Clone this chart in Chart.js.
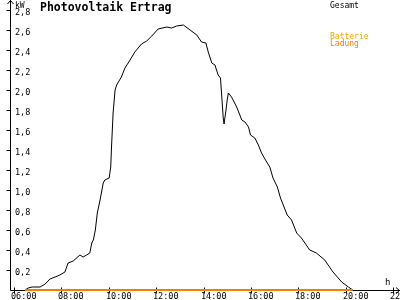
<!DOCTYPE html>
<html>
<head>
<meta charset="utf-8">
<script src="https://cdn.jsdelivr.net/npm/chart.js@4"></script>
<style>
  html, body { margin: 0; padding: 0; background: #fff; }
  canvas { display: block; }
</style>
</head>
<body>
<canvas id="pvChart" width="400" height="300"></canvas>
<script>
// measured points of the day curve (time, kW)
const times = [
  "06:28", "06:36", "06:46", "07:06", "07:19", "07:31", "07:44", "07:56", "08:09", "08:17",
  "08:30", "08:47", "08:55", "09:04", "09:12", "09:17", "09:21", "09:26", "09:31", "09:38",
  "09:46", "09:50", "10:01", "10:05", "10:07", "10:11", "10:16", "10:20", "10:32", "10:41",
  "10:54", "11:06", "11:23", "11:36", "11:49", "12:05", "12:27", "12:39", "12:52", "13:09",
  "13:26", "13:43", "13:55", "14:06", "14:12", "14:21", "14:29", "14:37", "14:43", "14:46",
  "14:50", "14:52", "14:57", "15:00", "15:03", "15:11", "15:24", "15:37", "15:45", "15:54",
  "15:59", "16:10", "16:19", "16:27", "16:40", "16:48", "16:56", "17:07", "17:15", "17:32",
  "17:43", "17:56", "18:08", "18:29", "18:46", "19:07", "19:28", "19:50", "20:07", "20:18"
];
const gesamt = [
  0.00, 0.02, 0.03, 0.03, 0.06, 0.11, 0.13, 0.15, 0.18, 0.27,
  0.29, 0.35, 0.33, 0.35, 0.37, 0.47, 0.50, 0.60, 0.77, 0.90,
  1.07, 1.10, 1.12, 1.23, 1.43, 1.77, 2.00, 2.05, 2.13, 2.22,
  2.30, 2.38, 2.46, 2.49, 2.54, 2.61, 2.63, 2.62, 2.64, 2.65,
  2.60, 2.55, 2.48, 2.47, 2.38, 2.27, 2.25, 2.15, 2.12, 1.95,
  1.72, 1.66, 1.80, 1.90, 1.97, 1.93, 1.83, 1.70, 1.68, 1.63,
  1.55, 1.52, 1.45, 1.37, 1.28, 1.23, 1.12, 1.03, 0.92, 0.75,
  0.70, 0.57, 0.52, 0.40, 0.37, 0.30, 0.18, 0.08, 0.03, 0.00
];

// battery charging stays at zero all day
const ladungTimes = ["06:28", "20:18"];
const ladung = [0, 0];

const xTickLabels = ["06:00", "08:00", "10:00", "12:00", "14:00", "16:00", "18:00", "20:00", "22:00"];
const yTickValues = [0.2, 0.4, 0.6, 0.8, 1.0, 1.2, 1.4, 1.6, 1.8, 2.0, 2.2, 2.4, 2.6, 2.8];

function toHours(t) {
  const [h, m] = t.split(":").map(Number);
  return h + m / 60;
}

const MONO = "'DejaVu Sans Mono', monospace";

// axes, arrows, ticks and all the texts are drawn by hand like the old gnuplot-ish picture
const pvAxes = {
  id: "pvAxes",
  beforeDatasetsDraw(chart) {
    const { ctx, scales: { x, y } } = chart;
    const x0 = Math.round(x.left) + 0.5;
    const y0 = Math.round(y.bottom) + 0.5;
    ctx.save();
    ctx.strokeStyle = "#000";
    ctx.lineWidth = 1;
    ctx.beginPath();
    // y axis + arrow
    ctx.moveTo(x0, y0);
    ctx.lineTo(x0, 0);
    ctx.moveTo(x0 - 3, 4);
    ctx.lineTo(x0, 0.5);
    ctx.lineTo(x0 + 3, 4);
    // x axis + arrow
    ctx.moveTo(x0, y0);
    ctx.lineTo(400, y0);
    ctx.moveTo(396, y0 - 3);
    ctx.lineTo(399.5, y0);
    ctx.lineTo(396, y0 + 3);
    // y ticks
    yTickValues.forEach(v => {
      const py = Math.round(y.getPixelForValue(v)) + 0.5;
      ctx.moveTo(x0 - 4, py);
      ctx.lineTo(x0, py);
    });
    // x ticks
    xTickLabels.forEach(t => {
      const px = Math.round(x.getPixelForValue(toHours(t))) + 0.5;
      ctx.moveTo(px, y0 - 3);
      ctx.lineTo(px, y0 + 3);
    });
    ctx.stroke();
    ctx.restore();
  },
  afterDraw(chart) {
    const { ctx, scales: { x, y } } = chart;
    ctx.save();
    ctx.fillStyle = "#000";
    ctx.textBaseline = "alphabetic";
    ctx.textAlign = "left";

    ctx.font = "8.5px " + MONO;
    yTickValues.forEach(v => {
      const py = Math.round(y.getPixelForValue(v));
      ctx.fillText(v.toFixed(1).replace(".", ","), 15, py + 5);
    });
    xTickLabels.forEach(t => {
      const px = Math.round(x.getPixelForValue(toHours(t)));
      ctx.fillText(t, px - 3, 299);
    });

    ctx.font = "8px " + MONO;
    ctx.fillText("kW", 15, 8);
    ctx.font = "9px " + MONO;
    ctx.fillText("h", 385, 285);

    ctx.font = "bold 11.5px " + MONO;
    ctx.fillText("Photovoltaik Ertrag", 40, 11);

    ctx.font = "8px " + MONO;
    ctx.fillText("Gesamt", 330, 8);
    ctx.fillStyle = "#f8a800";
    ctx.fillText("Batterie", 330, 39);
    ctx.fillStyle = "#f08000";
    ctx.fillText("Ladung", 330, 46);
    ctx.restore();
  }
};

new Chart(document.getElementById("pvChart"), {
  type: "line",
  data: {
    datasets: [
      {
        label: "Gesamt",
        data: times.map((t, i) => ({ x: toHours(t), y: gesamt[i] })),
        borderColor: "#000",
        borderWidth: 1,
        pointRadius: 0,
        tension: 0,
        clip: false,
        order: 2
      },
      {
        label: "Batterie Ladung",
        data: ladungTimes.map((t, i) => ({ x: toHours(t), y: ladung[i] })),
        borderColor: "#f08000",
        borderWidth: 2,
        pointRadius: 0,
        clip: false,
        order: 1
      }
    ]
  },
  plugins: [pvAxes],
  options: {
    responsive: false,
    animation: false,
    layout: { padding: { left: 10, right: 0, top: 2, bottom: 10 } },
    plugins: {
      legend: { display: false },
      title: { display: false },
      tooltip: { enabled: false }
    },
    scales: {
      x: { type: "linear", display: false, min: 5.831, max: 22.295 },
      y: { display: false, min: 0, max: 2.88 }
    }
  }
});
</script>
</body>
</html>
